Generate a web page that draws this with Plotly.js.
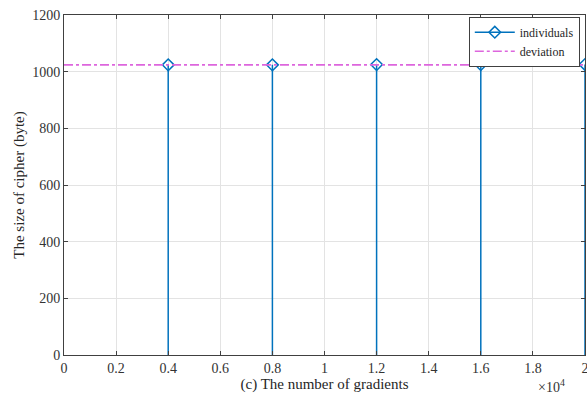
<!DOCTYPE html>
<html><head><meta charset="utf-8">
<script src="https://cdn.plot.ly/plotly-3.0.1.min.js"></script>
<style>html,body{margin:0;padding:0;background:#fff}#c{width:587px;height:396px}</style>
</head><body><div id="c"></div>
<script>
const gradients = [4000, 8000, 12000, 16000, 20000];
const cipherSize = [1024, 1024, 1025, 1025, 1025];
const deviationX = [0, 20000];
const deviationY = [1024, 1024];
const xTickVals = [0, 2000, 4000, 6000, 8000, 10000, 12000, 14000, 16000, 18000, 20000];
const xTickText = ['0', '0.2', '0.4', '0.6', '0.8', '1', '1.2', '1.4', '1.6', '1.8', '2'];

const stemX = [], stemY = [], ptX = [], ptY = [];
gradients.forEach((g, i) => {
  stemX.push(g, g, null); stemY.push(0, cipherSize[i], null);
  ptX.push(g, null); ptY.push(cipherSize[i], null);
});

const blue = '#0072BD';
const fam = 'Liberation Serif, Times New Roman, serif';
const tickFont = {family: fam, size: 14, color: '#333333'};
const titleFont = {family: fam, size: 15, color: '#262626'};
const traces = [
  {x: stemX, y: stemY, mode: 'lines', line: {color: blue, width: 1.5}, showlegend: false, hoverinfo: 'skip'},
  {x: ptX, y: ptY, mode: 'lines+markers', name: 'individuals', connectgaps: false,
   line: {color: blue, width: 1.5}, marker: {symbol: 'diamond-open', size: 9, color: blue, line: {width: 1.5, color: blue}}},
  {x: deviationX, y: deviationY, mode: 'lines', name: 'deviation', line: {color: '#DD66DD', width: 1.6, dash: 'dashdot'}}
];
const ax = {
  showline: true, linecolor: '#404040', linewidth: 1, mirror: 'ticks', ticks: 'inside', ticklen: 4,
  tickcolor: '#404040', showgrid: true, gridcolor: '#e3e3e3', zeroline: false, tickfont: tickFont,
  ticklabeloverflow: 'allow'
};
const layout = {
  width: 587, height: 396, margin: {l: 64, r: 2, t: 15, b: 41},
  paper_bgcolor: '#fff', plot_bgcolor: '#fff', font: tickFont,
  xaxis: Object.assign({}, ax, {range: [0, 20000], tickvals: xTickVals, ticktext: xTickText,
    title: {text: '(c) The number of gradients', font: titleFont, standoff: 3}}),
  yaxis: Object.assign({}, ax, {range: [0, 1200], dtick: 200,
    title: {text: 'The size of cipher (byte)', font: titleFont, standoff: 3}}),
  legend: {x: 0.99, y: 0.995, xanchor: 'right', yanchor: 'top', bgcolor: '#fff', bordercolor: '#404040',
    borderwidth: 1, font: {family: fam, size: 12, color: '#262626'}, tracegroupgap: 0, itemwidth: 40},
  annotations: [{xref: 'paper', yref: 'paper', x: 0.965, y: 0, xanchor: 'right', yanchor: 'top', yshift: -20,
    showarrow: false, text: '×10<sup>4</sup>', font: {family: fam, size: 14, color: '#333333'}}],
  showlegend: true
};
Plotly.newPlot('c', traces, layout, {displayModeBar: false, staticPlot: true});
</script></body></html>
